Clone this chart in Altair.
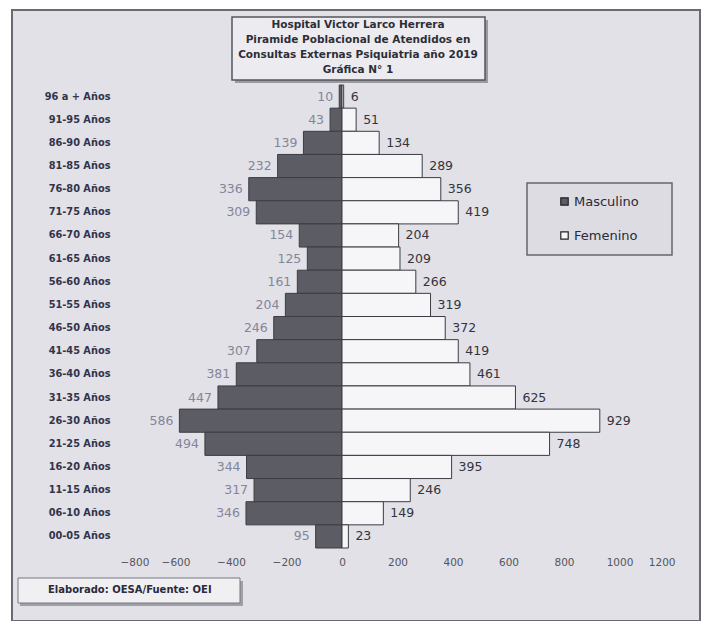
import altair as alt
import pandas as pd

ages = ["96 a + Años", "91-95 Años", "86-90 Años", "81-85 Años", "76-80 Años",
        "71-75 Años", "66-70 Años", "61-65 Años", "56-60 Años", "51-55 Años",
        "46-50 Años", "41-45 Años", "36-40 Años", "31-35 Años", "26-30 Años",
        "21-25 Años", "16-20 Años", "11-15 Años", "06-10 Años", "00-05 Años"]
masculino = [10, 43, 139, 232, 336, 309, 154, 125, 161, 204,
             246, 307, 381, 447, 586, 494, 344, 317, 346, 95]
femenino = [6, 51, 134, 289, 356, 419, 204, 209, 266, 319,
            372, 419, 461, 625, 929, 748, 395, 246, 149, 23]
x_ticks = [-800, -600, -400, -200, 0, 200, 400, 600, 800, 1000, 1200]
title_lines = ["Hospital Victor Larco Herrera",
               "Piramide Poblacional de Atendidos en",
               "Consultas Externas Psiquiatria año 2019",
               "Gráfica N° 1"]
footer_text = "Elaborado: OESA/Fuente: OEI"

rows = []
for a, m, f in zip(ages, masculino, femenino):
    rows.append({"edad": a, "sexo": "Masculino", "valor": m, "pos": -m})
    rows.append({"edad": a, "sexo": "Femenino", "valor": f, "pos": f})
df = pd.DataFrame(rows)

FONT = "DejaVu Sans"
W, H = 555, 463
one = pd.DataFrame({"k": [0]})

def box(x, x2, y, y2, fill, stroke, sw=1.2):
    return alt.Chart(one).mark_rect(fill=fill, stroke=stroke, strokeWidth=sw).encode(
        x=alt.value(x), x2=alt.value(x2), y=alt.value(y), y2=alt.value(y2))

frame = box(-108, 580, -75, 536, "#e1e1e7", "#6a6a72", 2)
title_shadow = box(115, 368, -65, -2, "#9a9aa2", "#9a9aa2", 0)
title_box = box(112, 365, -68, -5, "#ececf0", "#55555d", 1.5)
legend_box = box(407, 552, 98, 170, "#dcdce2", "#66666e", 1.5)
footer_shadow = box(-100, 123, 496, 521, "#a0a0a8", "#a0a0a8", 0)
footer_box = box(-102, 120, 493, 518, "#f0f0f3", "#77777f", 1)

title_txt = alt.Chart(one).mark_text(
    text="\n".join(title_lines), lineBreak="\n", lineHeight=15,
    font=FONT, fontSize=10.5, fontWeight="bold", color="#2e2e38",
    align="center", baseline="top"
).encode(x=alt.value(238), y=alt.value(-65))

footer = alt.Chart(one).mark_text(
    text=footer_text, font=FONT, fontSize=10, fontWeight="bold",
    color="#2a2a3a", align="left", baseline="middle"
).encode(x=alt.value(-72), y=alt.value(505))

color_scale = alt.Scale(domain=["Masculino", "Femenino"], range=["#5c5c64", "#f6f6f8"])
y_enc = alt.Y("edad:N", sort=ages, title=None,
              scale=alt.Scale(paddingInner=0.0, paddingOuter=0.0),
              axis=alt.Axis(labelFont=FONT, labelFontSize=9.8, labelFontWeight="bold",
                            labelColor="#33334a", ticks=False, domain=False,
                            labelPadding=10, grid=False, zindex=2))

bars = alt.Chart(df).mark_bar(stroke="#3c3c44", strokeWidth=1).encode(
    x=alt.X("pos:Q", title=None,
            scale=alt.Scale(domain=[-800, 1200], nice=False),
            axis=alt.Axis(values=x_ticks, format="d", labelFont=FONT, labelFontSize=10.5,
                          labelColor="#55555f", ticks=False, domain=False, grid=False,
                          labelPadding=9, zindex=2)),
    y=y_enc,
    color=alt.Color("sexo:N", scale=color_scale, title=None,
                    legend=alt.Legend(orient="none", legendX=438, legendY=110,
                                      symbolType="square", symbolSize=55,
                                      symbolStrokeColor="#222", symbolStrokeWidth=1.2,
                                      labelFont=FONT, labelFontSize=13,
                                      labelColor="#2a2a3a", rowPadding=20,
                                      padding=0, labelOffset=3, zindex=2)),
)

male_lbl = alt.Chart(df[df.sexo == "Masculino"]).mark_text(
    align="right", baseline="middle", dx=-6, font=FONT, fontSize=12.5, color="#85859a"
).encode(x="pos:Q", y=alt.Y("edad:N", sort=ages), text="valor:Q")

fem_lbl = alt.Chart(df[df.sexo == "Femenino"]).mark_text(
    align="left", baseline="middle", dx=7, font=FONT, fontSize=12.5, color="#34343e"
).encode(x="pos:Q", y=alt.Y("edad:N", sort=ages), text="valor:Q")

chart = alt.layer(
    frame, title_shadow, title_box, legend_box, footer_shadow, footer_box,
    bars, male_lbl, fem_lbl, footer, title_txt
).properties(
    width=W, height=H,
    autosize=alt.AutoSizeParams(type="none"),
    padding={"left": 112, "top": 77, "right": 32, "bottom": 73},
).configure_view(stroke=None, fill=None).configure(background="white")

chart.save("out.html", embed_options={"renderer": "svg", "actions": False})
